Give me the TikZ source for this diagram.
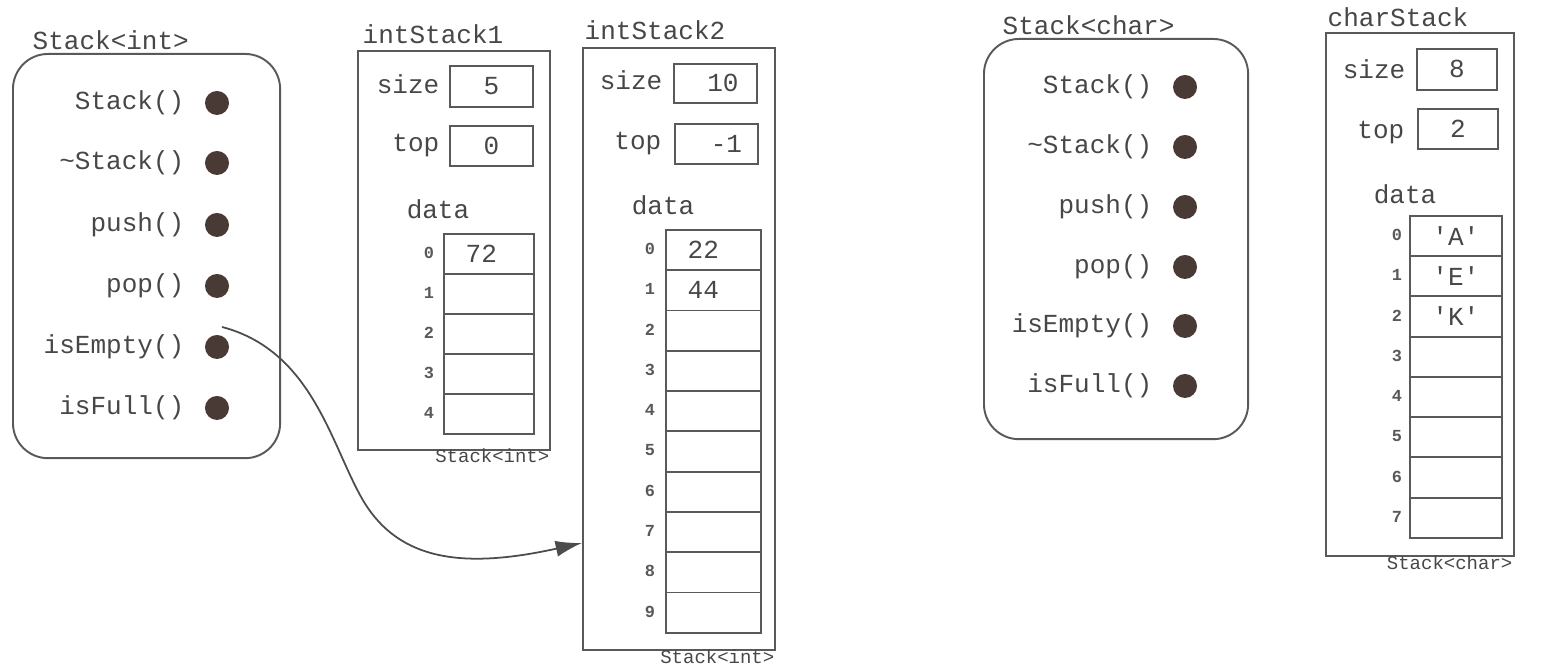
\documentclass[tikz,border=0pt]{standalone}
\usepackage{fontspec}
\setmonofont{Liberation Mono}
\usetikzlibrary{arrows.meta,positioning}
\definecolor{dotc}{HTML}{4A3A35}

\begin{document}
\begin{tikzpicture}
  [x=.01cm,y=-.01cm,
  txt/.style={font=\ttfamily\fontsize{7.4}{8}\selectfont,text=black!72,inner sep=0pt},
  sml/.style={font=\ttfamily\fontsize{5.4}{6}\selectfont,text=black!72,inner sep=0pt},
  idx/.style={font=\ttfamily\bfseries\fontsize{4.8}{5}\selectfont,text=black!65,inner sep=0pt},
  classbox/.style={draw=black!65,line width=.55pt,rounded corners=.35cm,anchor=north west},
  objbox/.style={draw=black!65,line width=.55pt,anchor=north west},
  field/.style={draw=black!65,line width=.5pt,anchor=north west,minimum width=.83cm,minimum height=.41cm,
    font=\ttfamily\fontsize{7.4}{8}\selectfont,text=black!72,inner sep=0pt},
  cell/.style={draw=black!65,line width=.5pt,anchor=north west,minimum height=.4cm,inner sep=0pt},
  dot/.style={circle,fill=dotc,inner sep=0pt,minimum size=.24cm},
  conn/.style={draw=black!70,line width=.5pt,-{Latex[length=7.5pt,width=4.6pt]}}]
  \useasboundingbox (0,0) rectangle (1560,668);
  % lớp Stack<int>
  \node[classbox,minimum width=2.67cm,minimum height=4.04cm] (cInt) at (12,53) {};
  \node[txt,anchor=base west] (cIntLbl) at (32,50) {Stack<int>};
  \foreach \m/\y [count=\k] in {Stack()/103,\textasciitilde Stack()/163,push()/225,pop()/286,isEmpty()/347,isFull()/408}
  {\node[txt,anchor=base east] (mi\k) at (185,\y+7) {\m};
   \node[dot] (di\k) at (217,\y) {};}
  % lớp Stack<char>
  \node[classbox,minimum width=2.64cm,minimum height=4cm] (cChar) at (983,38) {};
  \node[txt,anchor=base west] (cCharLbl) at (1002,35) {Stack<char>};
  \foreach \m/\y [count=\k] in {Stack()/87,\textasciitilde Stack()/147,push()/207,pop()/267,isEmpty()/326,isFull()/386}
  {\node[txt,anchor=base east] (mc\k) at (1153,\y+7) {\m};
   \node[dot] (dc\k) at (1185,\y) {};}
  % đối tượng intStack1
  \node[objbox,minimum width=1.92cm,minimum height=3.99cm] (s1) at (357,50) {};
  \node[txt,anchor=base west] (s1Lbl) at (362,44) {intStack1};
  \node[txt,anchor=base east] (s1Size) at (440,94) {size};
  \node[field] (s1SizeV) at (449,65) {5};
  \node[txt,anchor=base east] (s1Top) at (440,152) {top};
  \node[field,minimum height=.4cm] (s1TopV) at (449,125) {0};
  \node[txt,anchor=base] (s1Data) at (438,219) {data};
  \foreach \i in {0,...,4}
  {\node[cell,minimum width=.9cm] (a1\i) at (443,233+40*\i) {};
   \node[idx] (i1\i) at (429,253+40*\i) {\i};}
  \node[txt,anchor=west] (v10) at ([xshift=.22cm]a10.west) {72};
  \node[sml,anchor=base east] (s1Type) at (550,463) {Stack<int>};
  % đối tượng intStack2
  \node[objbox,minimum width=1.92cm,minimum height=6.02cm] (s2) at (582,47) {};
  \node[txt,anchor=base west] (s2Lbl) at (584,40) {intStack2};
  \node[txt,anchor=base east] (s2Size) at (663,90) {size};
  \node[field,minimum height=.39cm] (s2SizeV) at (673,63) {\hspace{.15cm}10};
  \node[txt,anchor=base east] (s2Top) at (662,150) {top};
  \node[field,minimum height=.4cm] (s2TopV) at (674,123) {\hspace{.2cm}-1};
  \node[txt,anchor=base] (s2Data) at (663,215) {data};
  \foreach \i in {0,...,9}
  {\node[cell,minimum width=.95cm,minimum height=.403cm] (a2\i) at (665,229+40.3*\i) {};
   \node[idx] (i2\i) at (650,249+40.3*\i) {\i};}
  \foreach \i/\v in {0/22,1/44}
  \node[txt,anchor=west] (v2\i) at ([xshift=.22cm]a2\i.west) {\v};
  \node[sml,anchor=base east] (s2Type) at (775,664) {Stack<int>};
  % đối tượng charStack
  \node[objbox,minimum width=1.88cm,minimum height=5.23cm] (s3) at (1325,32) {};
  \node[txt,anchor=base west] (s3Lbl) at (1327,27) {charStack};
  \node[txt,anchor=base east] (s3Size) at (1406,79) {size};
  \node[field,minimum width=.8cm] (s3SizeV) at (1416,48) {8};
  \node[txt,anchor=base east] (s3Top) at (1405,139) {top};
  \node[field,minimum width=.8cm,minimum height=.4cm] (s3TopV) at (1417,108) {2};
  \node[txt,anchor=base] (s3Data) at (1405,204) {data};
  \foreach \i in {0,...,7}
  {\node[cell,minimum width=.92cm,minimum height=.4025cm] (a3\i) at (1409,215+40.25*\i) {};
   \node[idx] (i3\i) at (1397,235+40.25*\i) {\i};}
  \foreach \i/\v in {0/A,1/E,2/K}
  \node[txt] (v3\i) at (a3\i) {'\v'};
  \node[sml,anchor=base east] (s3Type) at (1513,570) {Stack<char>};
  % mũi tên từ isEmpty() sang intStack2
  \coordinate (src) at (222,327);
  \coordinate (lvl) at (0,543);
  \coordinate (dst) at (s2.west |- lvl);
  \draw[conn] (src) .. controls (310,350) and (330,440) .. (360,495)
    .. controls (395,560) and (460,570) .. (dst);
\end{tikzpicture}
\end{document}
